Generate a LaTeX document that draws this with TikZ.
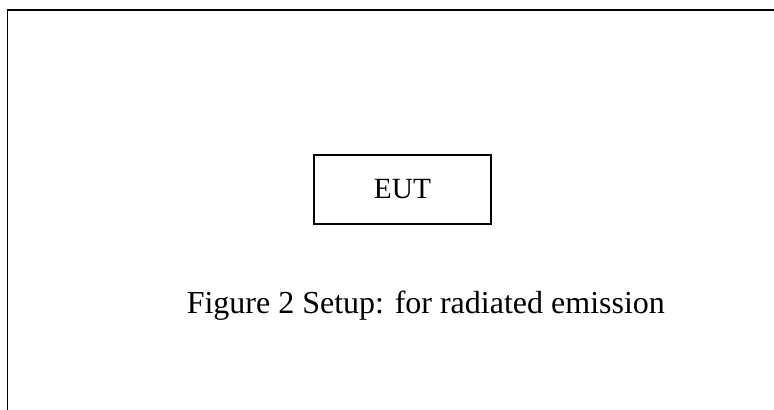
\documentclass[tikz,border=0pt]{standalone}
\usepackage{fontspec}
\setmainfont{Liberation Serif}
\usetikzlibrary{positioning}

\begin{document}
\begin{tikzpicture}[
  x=0.75pt, y=0.75pt,
  node distance=66.5pt,
  frame/.style={line width=1.3pt},
  box/.style={draw, line width=1.2pt, minimum width=132.75pt, minimum height=51.75pt, inner sep=0pt, font=\fontsize{22}{26}\selectfont},
  captiontext/.style={inner sep=0pt, font=\fontsize{24}{28}\selectfont}
]
\useasboundingbox (0,0) rectangle (774,410);

% Outer frame
\draw[frame] (7.5,0) |- (774,400);

% Device under test
\node[box] (eut) at (402.5,220.5) {EUT};

% Caption
\node[captiontext, below=of eut.south, anchor=base, xshift=17.5pt] (caption) {Figure 2 Setup: for radiated emission};

\end{tikzpicture}
\end{document}
